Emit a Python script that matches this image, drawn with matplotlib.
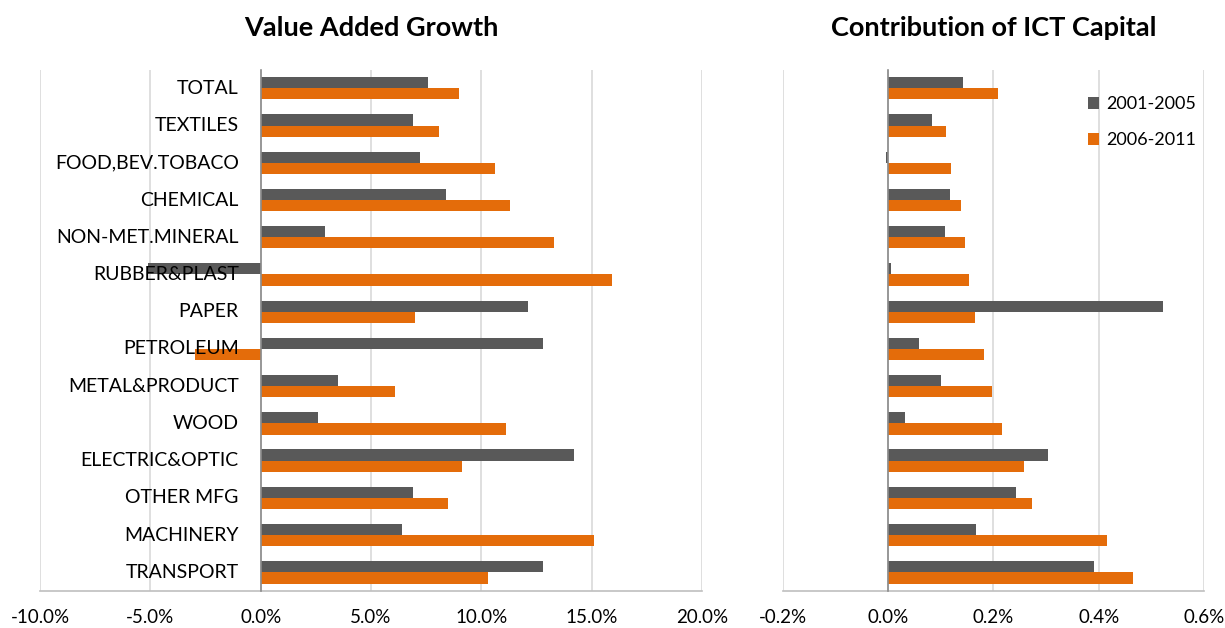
import matplotlib
matplotlib.use("Agg")
import matplotlib.pyplot as plt
import numpy as np
from matplotlib.ticker import FuncFormatter

# sectores (de arriba a abajo)
sectores = ["TOTAL", "TEXTILES", "FOOD,BEV.TOBACO", "CHEMICAL", "NON-MET.MINERAL",
            "RUBBER&PLAST", "PAPER", "PETROLEUM", "METAL&PRODUCT", "WOOD",
            "ELECTRIC&OPTIC", "OTHER MFG", "MACHINERY", "TRANSPORT"]
periodos = ["2001-2005", "2006-2011"]

# crecimiento del valor agregado (%)
va_2001_2005 = [7.6, 6.9, 7.2, 8.4, 2.9, -5.1, 12.1, 12.8, 3.5, 2.6, 14.2, 6.9, 6.4, 12.8]
va_2006_2011 = [9.0, 8.1, 10.6, 11.3, 13.3, 15.9, 7.0, -3.0, 6.1, 11.1, 9.1, 8.5, 15.1, 10.3]

# contribucion del capital TIC (%)
tic_2001_2005 = [0.143, 0.083, -0.004, 0.117, 0.109, 0.006, 0.523, 0.059, 0.100, 0.033, 0.303, 0.244, 0.168, 0.391]
tic_2006_2011 = [0.209, 0.110, 0.120, 0.138, 0.146, 0.154, 0.165, 0.182, 0.198, 0.216, 0.259, 0.274, 0.416, 0.466]

gris = "#595959"
naranja = "#E46C0A"
fuente = "Lato"
plt.rcParams["font.family"] = [fuente, "DejaVu Sans"]

fig = plt.figure(figsize=(12.25, 6.28), dpi=100)
ax1 = fig.add_axes([0.0327, 0.059, 0.5404, 0.830])
ax2 = fig.add_axes([0.6388, 0.059, 0.3441, 0.830])

y = np.arange(len(sectores))
alto = 0.3


def dibujar(ax, serie1, serie2, xmin, xmax, paso, fmt):
    ax.barh(y - alto / 2, serie1, height=alto, color=gris, label=periodos[0], zorder=3)
    ax.barh(y + alto / 2, serie2, height=alto, color=naranja, label=periodos[1], zorder=3)
    ax.set_xlim(xmin, xmax)
    ax.set_ylim(len(sectores) - 0.5, -0.5)
    ax.set_xticks(np.arange(xmin, xmax + paso / 2, paso))
    ax.xaxis.set_major_formatter(FuncFormatter(lambda v, p: fmt.format(v)))
    ax.grid(axis="x", color="#D9D9D9", linewidth=1.2, zorder=0)
    for s in ["top", "right"]:
        ax.spines[s].set_visible(False)
    ax.spines["left"].set_position(("data", 0))
    ax.spines["left"].set_color("#8C8C8C")
    ax.spines["left"].set_linewidth(1.2)
    ax.spines["left"].set_zorder(4)
    ax.spines["bottom"].set_color("#BFBFBF")
    ax.spines["bottom"].set_linewidth(1.2)
    ax.tick_params(axis="x", length=0, labelsize=13.5, pad=13, labelcolor="black")
    ax.set_yticks([])


dibujar(ax1, va_2001_2005, va_2006_2011, -10, 20, 5, "{:.1f}%")
# etiquetas de categoria encima de las barras, como en Excel
for i, nombre in enumerate(sectores):
    ax1.text(-1.0, i, nombre, ha="right", va="center", fontsize=14, zorder=6)
ax1.set_title("Value Added Growth", fontsize=19.5, fontweight="bold", pad=24)

dibujar(ax2, tic_2001_2005, tic_2006_2011, -0.2, 0.6, 0.2, "{:.1f}%")
ax2.set_title("Contribution of ICT Capital", fontsize=19.5, fontweight="bold", pad=24)
ax2.legend(loc="upper right", frameon=False, fontsize=13, handlelength=0.6,
           handleheight=0.6, labelspacing=1.1, handletextpad=0.4,
           bbox_to_anchor=(1.02, 0.98))

fig.savefig("out.png", dpi=100)
